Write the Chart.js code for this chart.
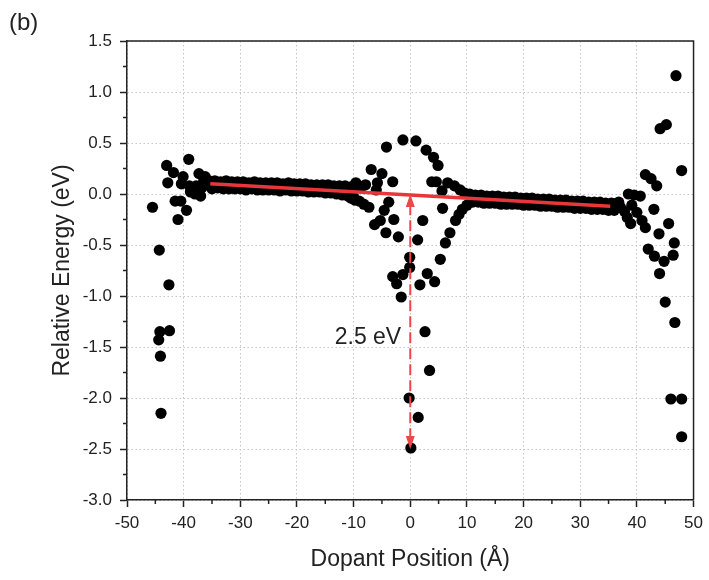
<!DOCTYPE html>
<html>
<head>
<meta charset="utf-8">
<script src="https://cdn.jsdelivr.net/npm/chart.js@4.4.0/dist/chart.umd.min.js"></script>
<style>
  body { margin: 0; background: #fff; }
</style>
</head>
<body>
<canvas id="myChart" width="709" height="580"></canvas>
<script>
// dopant scan: relative energy (eV) against dopant position (Å)
const edgeLeftX = [-45.5, -43.0, -39.1, -41.8, -42.8, -40.1, -40.4, -41.5, -40.5, -39.5, -41.0, -44.3,
  -38.8, -37.0, -37.3, -36.2, -37.8, -38.5, -38.0, -36.8, -36.5, -39.0,
  -42.6, -42.5, -44.2, -44.4, -44.1, -44.0];
const edgeLeftE = [-0.13, 0.28, 0.34, 0.21, 0.11, 0.17, 0.10, -0.07, -0.07, -0.16, -0.25, -0.55,
  0.02, -0.02, 0.20, 0.17, 0.08, 0.06, 0.00, 0.06, 0.12, 0.08,
  -0.89, -1.34, -1.35, -1.43, -1.59, -2.15];

const bandLeftX = [-35.5, -34.5, -33.5, -32.5, -31.5, -30.5, -29.5, -28.5, -27.5, -26.5, -25.5, -24.5, -23.5,
  -22.5, -21.5, -20.5, -19.5, -18.5, -17.5, -16.5, -15.5, -14.5, -13.5, -12.5, -11.5, -10.5, -9.5,
  -35, -34, -33, -32, -31, -30, -29, -28, -27, -26, -25, -24, -23,
  -22, -21, -20, -19, -18, -17, -16, -15, -14, -13, -12, -11, -10];
const bandLeftE = [0.13, 0.13, 0.12, 0.13, 0.12, 0.12, 0.12, 0.11, 0.12, 0.11, 0.11, 0.11, 0.11,
  0.10, 0.11, 0.10, 0.10, 0.10, 0.09, 0.09, 0.09, 0.09, 0.08, 0.08, 0.08, 0.07, 0.08,
  0.05, 0.06, 0.05, 0.05, 0.05, 0.05, 0.04, 0.05, 0.04, 0.04, 0.04, 0.04, 0.03,
  0.04, 0.03, 0.03, 0.03, 0.02, 0.02, 0.02, 0.01, 0.01, 0.00, -0.01, -0.02, -0.03];

const coreX = [-11.3, -9.6, -7.9, -6.9, -5.0, -5.8, -3.1, -6.0, -8.6, -9.0, -7.3, -3.8, -4.6, -5.3, -6.3,
  -2.9, -4.3, -2.1, -4.2, -1.3, 1.0, 2.8, 4.1, 4.9, 3.8, 4.6, 6.6, 7.8, 5.6, 5.7, 2.2, 1.3, 7.0, 6.2,
  8.0, -0.1, -0.1, 5.3, -3.1, -1.3, -2.4, 3.0, 1.7, 4.3, -1.6, 2.6, 3.4, -0.2, 1.4, 0.1,
  -10.5, -9.8, -8.2, 8.6, 9.2, 10.0, 8.8, 9.6, 10.5];
const coreE = [0.06, 0.11, 0.09, 0.24, 0.20, 0.11, 0.12, 0.04, 0.07, -0.07, -0.13, -0.08, -0.16, -0.26, -0.30,
  -0.25, -0.38, -0.42, 0.46, 0.53, 0.52, 0.43, 0.36, 0.28, 0.12, 0.12, 0.11, 0.08, 0.03, -0.14, -0.26, -0.45, -0.38, -0.48,
  -0.26, -0.62, -0.72, -0.64, -0.81, -0.79, -0.88, -0.78, -0.89, -0.86, -1.01, -1.35, -1.73, -2.00, -2.19, -2.49,
  -0.04, -0.06, -0.10, -0.20, -0.15, -0.11, 0.04, 0.01, -0.01];

const bandRightX = [10.5, 11.5, 12.5, 13.5, 14.5, 15.5, 16.5, 17.5, 18.5, 19.5, 20.5, 21.5, 22.5, 23.5,
  24.5, 25.5, 26.5, 27.5, 28.5, 29.5, 30.5, 31.5, 32.5, 33.5, 34.5, 35.5, 36.5,
  11, 12, 13, 14, 15, 16, 17, 18, 19, 20, 21, 22, 23,
  24, 25, 26, 27, 28, 29, 30, 31, 32, 33, 34, 35, 36];
const bandRightE = [0.00, -0.01, -0.01, -0.02, -0.02, -0.02, -0.03, -0.03, -0.03, -0.04, -0.04, -0.04, -0.05, -0.05,
  -0.05, -0.06, -0.06, -0.06, -0.07, -0.07, -0.07, -0.08, -0.08, -0.08, -0.09, -0.09, -0.09,
  -0.08, -0.08, -0.09, -0.09, -0.09, -0.10, -0.10, -0.10, -0.10, -0.11, -0.11, -0.11, -0.12,
  -0.12, -0.12, -0.13, -0.13, -0.13, -0.14, -0.14, -0.14, -0.15, -0.15, -0.15, -0.16, -0.16];

const edgeRightX = [36.8, 37.1, 37.8, 38.3, 38.9, 38.5, 39.5, 40.6, 39.1, 40.0, 40.9, 41.5, 43.0, 43.9,
  41.5, 42.5, 43.5, 44.1, 45.2, 46.9, 47.9, 45.6, 46.6, 42.0, 43.1, 44.8, 46.4, 44.0,
  45.0, 46.7, 46.0, 47.9, 47.9];
const edgeRightE = [-0.08, -0.13, -0.17, -0.23, -0.29, 0.00, -0.01, -0.02, -0.11, -0.18, -0.26, -0.33, -0.15, -0.39,
  0.19, 0.15, 0.08, 0.64, 0.68, 1.16, 0.23, -0.29, -0.48, -0.54, -0.61, -0.66, -0.60, -0.78,
  -1.06, -1.26, -2.01, -2.01, -2.38];

// linear trend through the flat region
const fitX = [-35.3, 35.3];
const fitE = [0.10, -0.12];

// barrier marker at the centre
const gapX = 0;
const gapTop = 0;
const gapEnergy = 2.5;
const gapLabel = '2.5 eV';

const xTicksMinor = [-45, -35, -25, -15, -5, 5, 15, 25, 35, 45];
const yTicksMinor = [1.25, 0.75, 0.25, -0.25, -0.75, -1.25, -1.75, -2.25, -2.75];

const FONT = "'Liberation Sans', Arial, sans-serif";
const INK = '#222';

function pairs(xs, ys) {
  return xs.map((v, i) => ({ x: v, y: ys[i] }));
}

const points = [].concat(
  pairs(edgeLeftX, edgeLeftE),
  pairs(bandLeftX, bandLeftE),
  pairs(coreX, coreE),
  pairs(bandRightX, bandRightE),
  pairs(edgeRightX, edgeRightE)
);

const extras = {
  id: 'extras',
  afterDraw(chart) {
    const { ctx, chartArea: a, scales: { x, y } } = chart;
    ctx.save();
    ctx.strokeStyle = INK;
    ctx.lineWidth = 1.5;
    ctx.beginPath();
    ctx.moveTo(a.left, a.top);
    ctx.lineTo(a.right, a.top);
    ctx.lineTo(a.right, a.bottom);
    ctx.stroke();

    ctx.beginPath();
    xTicksMinor.forEach(v => {
      const px = x.getPixelForValue(v);
      ctx.moveTo(px, a.bottom);
      ctx.lineTo(px, a.bottom + 4);
    });
    yTicksMinor.forEach(v => {
      const py = y.getPixelForValue(v);
      ctx.moveTo(a.left, py);
      ctx.lineTo(a.left - 4, py);
    });
    ctx.stroke();

    // arrow heads
    const ax = x.getPixelForValue(gapX);
    const yTop = y.getPixelForValue(gapTop);
    const yBot = y.getPixelForValue(gapTop - gapEnergy);
    ctx.fillStyle = '#ee4747';
    ctx.beginPath();
    ctx.moveTo(ax, yTop);
    ctx.lineTo(ax - 4.5, yTop + 13);
    ctx.lineTo(ax + 4.5, yTop + 13);
    ctx.closePath();
    ctx.moveTo(ax, yBot);
    ctx.lineTo(ax - 4.5, yBot - 13);
    ctx.lineTo(ax + 4.5, yBot - 13);
    ctx.closePath();
    ctx.fill();

    ctx.fillStyle = INK;
    ctx.font = '23px ' + FONT;
    ctx.textAlign = 'right';
    ctx.textBaseline = 'middle';
    ctx.fillText(gapLabel, x.getPixelForValue(-1.6), y.getPixelForValue(-1.41));

    ctx.font = '24px ' + FONT;
    ctx.textAlign = 'left';
    ctx.textBaseline = 'alphabetic';
    ctx.fillText('(b)', 9, 30);
    ctx.restore();
  }
};

const ctx = document.getElementById('myChart');
new Chart(ctx, {
  type: 'scatter',
  plugins: [extras],
  data: {
    datasets: [
      {
        label: 'trend',
        type: 'line',
        data: pairs(fitX, fitE),
        borderColor: '#e8363a',
        borderWidth: 3.5,
        pointRadius: 0,
        order: 1
      },
      {
        label: 'gap',
        type: 'line',
        data: [{ x: gapX, y: gapTop - 0.1 }, { x: gapX, y: gapTop - gapEnergy + 0.1 }],
        borderColor: '#ee4747',
        borderWidth: 2,
        borderDash: [11, 5],
        pointRadius: 0,
        order: 2
      },
      {
        label: 'energy',
        data: points,
        backgroundColor: '#000',
        borderWidth: 0,
        pointRadius: 5.6,
        order: 3
      }
    ]
  },
  options: {
    responsive: false,
    animation: false,
    devicePixelRatio: 1,
    layout: { padding: { top: 41, right: 12, left: 0, bottom: 0 } },
    plugins: {
      legend: { display: false },
      tooltip: { enabled: false }
    },
    scales: {
      x: {
        type: 'linear',
        min: -50,
        max: 50,
        afterFit: s => { s.height = 80; },
        ticks: {
          stepSize: 10,
          color: INK,
          padding: 6,
          maxRotation: 0,
          font: { size: 17, family: FONT }
        },
        grid: {
          color: '#c4c4c4',
          tickColor: INK,
          tickLength: 7,
          tickWidth: 1.5,
          tickBorderDash: []
        },
        border: { display: true, color: INK, width: 1.5, dash: [1.5, 2.5] },
        title: {
          display: true,
          text: 'Dopant Position (Å)',
          color: INK,
          font: { size: 23, family: FONT },
          padding: { top: 0, bottom: 7 }
        }
      },
      y: {
        type: 'linear',
        min: -3,
        max: 1.5,
        afterFit: s => { s.width = 127; },
        ticks: {
          stepSize: 0.5,
          color: INK,
          padding: 8,
          font: { size: 17, family: FONT },
          callback: v => v.toFixed(1)
        },
        grid: {
          color: '#c4c4c4',
          tickColor: INK,
          tickLength: 7,
          tickWidth: 1.5,
          tickBorderDash: []
        },
        border: { display: true, color: INK, width: 1.5, dash: [1.5, 2.5] },
        title: {
          display: true,
          text: 'Relative Energy (eV)',
          color: INK,
          font: { size: 23, family: FONT },
          padding: { top: 49, bottom: 0 }
        }
      }
    }
  }
});
</script>
</body>
</html>
